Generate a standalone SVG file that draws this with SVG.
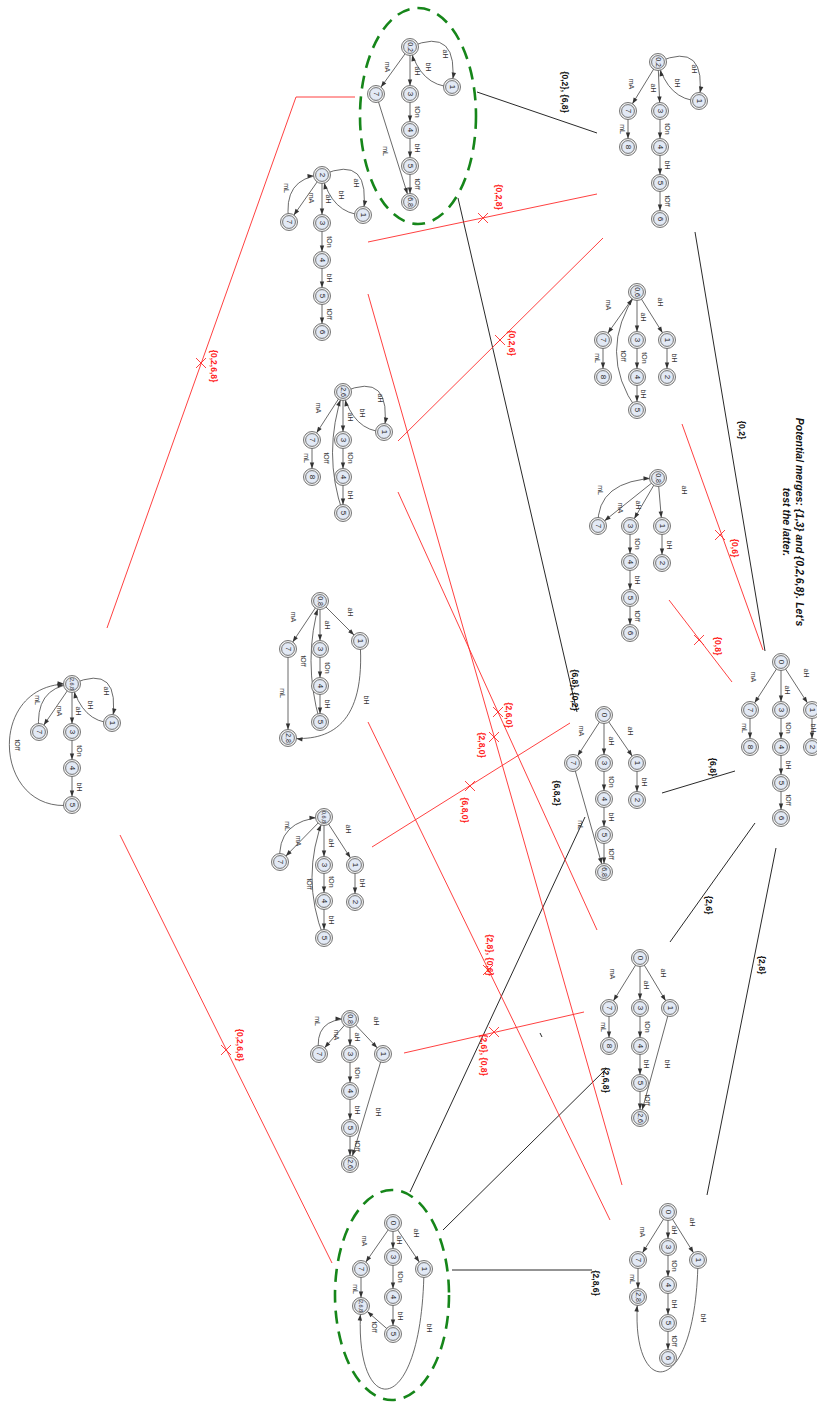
<svg xmlns="http://www.w3.org/2000/svg" width="817" height="1407" viewBox="0 0 817 1407">
<defs>
<marker id="a" markerUnits="userSpaceOnUse" viewBox="0 -5 20 10" markerWidth="20" markerHeight="10" refX="18.5" refY="0" orient="auto"><path d="M4,-2.2 L10,0 L4,2.2 z" fill="#333"/></marker>
<g id="st"><circle r="8.5" class="o"/><circle r="6.4" class="i"/></g>
<path id="xm" d="M-5,-5 L5,5 M-5,5 L5,-5"/>
</defs>
<style>
.o{fill:#efefef;stroke:#666;stroke-width:0.9}
.i{fill:#e2e9f5;stroke:#666;stroke-width:0.9}
.nl{font-family:"Liberation Sans",Arial,sans-serif;font-size:8px;fill:#222;text-anchor:middle;dominant-baseline:central}
.s{font-size:7px}
.xs{font-size:5.5px}
.el{font-family:"Liberation Sans",Arial,sans-serif;font-size:7px;fill:#333;text-anchor:middle;dominant-baseline:central}
.e{fill:none;stroke:#444;stroke-width:0.8;marker-end:url(#a)}
.bk{stroke:#111;stroke-width:0.9;fill:none}
.rd{stroke:#ff2b2b;stroke-width:0.9;fill:none}
.bl{font-family:"Liberation Sans",Arial,sans-serif;font-size:8.5px;font-weight:bold;fill:#111;text-anchor:middle;dominant-baseline:central}
.rl{font-family:"Liberation Sans",Arial,sans-serif;font-size:8.5px;font-weight:bold;fill:#f22;text-anchor:middle;dominant-baseline:central}
.ell{fill:none;stroke:#16861a;stroke-width:2.6;stroke-dasharray:13 8}
.tt{font-family:"Liberation Sans",Arial,sans-serif;font-size:10.5px;font-weight:bold;font-style:italic;fill:#111;text-anchor:middle;dominant-baseline:central}
</style>
<rect width="817" height="1407" fill="#fff"/>

<g id="title">
<text class="tt" transform="translate(800,522) rotate(90)">Potential merges: {1,3} and {0,2,6,8}. Let's</text>
<text class="tt" transform="translate(787,522) rotate(90)">test the latter.</text>
</g>

<g id="highlights">
<ellipse class="ell" cx="418" cy="116" rx="58" ry="108"/>
<ellipse class="ell" cx="392" cy="1295" rx="57" ry="105"/>
</g>

<g id="connectors">
<path class="bk" d="M477,92 L597,133"/>
<path class="bk" d="M695,232 L765,651"/>
<path class="bk" d="M662,793 L735,771"/>
<path class="bk" d="M670,942 L755,823"/>
<path class="bk" d="M707,1195 L776,848"/>
<path class="bk" d="M458,198 L577,712"/>
<path class="bk" d="M585,817 L410,1192"/>
<path class="bk" d="M607,1068 L443,1230"/>
<path class="bk" d="M452,1270 L592,1270"/>
<path class="bk" d="M540,1033 L542,1037"/>
<text class="bl" transform="translate(565,92) rotate(90)">{0,2}, {6,8}</text>
<text class="bl" transform="translate(742,430) rotate(90)">{0,2}</text>
<text class="bl" transform="translate(575,690) rotate(90)">{6,8}, {0,2}</text>
<text class="bl" transform="translate(713,767) rotate(90)">{6,8}</text>
<text class="bl" transform="translate(557,793) rotate(90)">{6,8,2}</text>
<text class="bl" transform="translate(709,905) rotate(90)">{2,6}</text>
<text class="bl" transform="translate(762,965) rotate(90)">{2,8}</text>
<text class="bl" transform="translate(606,1080) rotate(90)">{2,6,8}</text>
<text class="bl" transform="translate(596,1283) rotate(90)">{2,8,6}</text>

<path class="rd" d="M355,97 L296,97 L107,628"/>
<path class="rd" d="M368,242 L597,194"/>
<path class="rd" d="M398,441 L603,238"/>
<path class="rd" d="M682,424 L763,650"/>
<path class="rd" d="M669,600 L732,682"/>
<path class="rd" d="M368,294 L622,1185"/>
<path class="rd" d="M398,492 L597,930"/>
<path class="rd" d="M368,722 L610,1220"/>
<path class="rd" d="M372,847 L570,723"/>
<path class="rd" d="M404,1053 L584,1012"/>
<path class="rd" d="M120,835 L332,1263"/>
<use href="#xm" class="rd" x="201" y="363"/>
<use href="#xm" class="rd" x="483" y="218"/>
<use href="#xm" class="rd" x="500" y="340"/>
<use href="#xm" class="rd" x="720" y="535"/>
<use href="#xm" class="rd" x="699" y="640"/>
<use href="#xm" class="rd" x="494" y="737"/>
<use href="#xm" class="rd" x="498" y="712"/>
<use href="#xm" class="rd" x="488" y="970"/>
<use href="#xm" class="rd" x="470" y="786"/>
<use href="#xm" class="rd" x="494" y="1032"/>
<use href="#xm" class="rd" x="226" y="1050"/>
<text class="rl" transform="translate(214,366) rotate(90)">{0,2,6,8}</text>
<text class="rl" transform="translate(499,197) rotate(90)">{0,2,8}</text>
<text class="rl" transform="translate(512,343) rotate(90)">{0,2,6}</text>
<text class="rl" transform="translate(735,548) rotate(90)">{0,6}</text>
<text class="rl" transform="translate(718,646) rotate(90)">{0,8}</text>
<text class="rl" transform="translate(509,715) rotate(90)">{2,6,0}</text>
<text class="rl" transform="translate(482,745) rotate(90)">{2,8,0}</text>
<text class="rl" transform="translate(465,810) rotate(90)">{6,8,0}</text>
<text class="rl" transform="translate(490,955) rotate(90)">{2,8}, {0,6}</text>
<text class="rl" transform="translate(484,1055) rotate(90)">{2,6}, {0,8}</text>
<text class="rl" transform="translate(240,1045) rotate(90)">{0,2,6,8}</text>
</g>

<g id="edges">
<!-- T1 -->
<path class="e" d="M658,62 L628,111"/><path class="e" d="M658,62 L660,111"/><path class="e" d="M658,62 Q708,40 699,101"/><path class="e" d="M699,101 Q668,100 658,62"/><path class="e" d="M660,111 L660,147"/><path class="e" d="M660,147 L660,183"/><path class="e" d="M660,183 L660,219"/><path class="e" d="M628,111 L628,147"/>
<text class="el" transform="translate(631,84) rotate(90)">mA</text><text class="el" transform="translate(653,88) rotate(90)">aH</text><text class="el" transform="translate(694,69) rotate(90)">aH</text><text class="el" transform="translate(677,83) rotate(90)">bH</text><text class="el" transform="translate(667,129) rotate(90)">tOn</text><text class="el" transform="translate(667,165) rotate(90)">bH</text><text class="el" transform="translate(667,201) rotate(90)">tOff</text><text class="el" transform="translate(622,129) rotate(90)">mL</text>
<!-- T2 -->
<path class="e" d="M637,292 L603,340"/><path class="e" d="M637,292 L637,340"/><path class="e" d="M637,292 L667,340"/><path class="e" d="M603,340 L603,377"/><path class="e" d="M637,340 L637,377"/><path class="e" d="M637,377 L637,410"/><path class="e" d="M667,340 L667,377"/><path class="e" d="M637,410 Q596,352 637,292"/>
<text class="el" transform="translate(608,305) rotate(90)">mA</text><text class="el" transform="translate(643,317) rotate(90)">aH</text><text class="el" transform="translate(660,302) rotate(90)">aH</text><text class="el" transform="translate(597,358) rotate(90)">mL</text><text class="el" transform="translate(644,358) rotate(90)">tOn</text><text class="el" transform="translate(643,394) rotate(90)">bH</text><text class="el" transform="translate(674,358) rotate(90)">bH</text><text class="el" transform="translate(623,356) rotate(90)">tOff</text>
<!-- T3 -->
<path class="e" d="M781,662 L750,710"/><path class="e" d="M781,662 L781,710"/><path class="e" d="M781,662 L812,710"/><path class="e" d="M750,710 L750,747"/><path class="e" d="M781,710 L781,747"/><path class="e" d="M781,747 L781,783"/><path class="e" d="M781,783 L781,818"/><path class="e" d="M812,710 L812,747"/>
<text class="el" transform="translate(753,677) rotate(90)">mA</text><text class="el" transform="translate(787,690) rotate(90)">aH</text><text class="el" transform="translate(806,673) rotate(90)">aH</text><text class="el" transform="translate(744,728) rotate(90)">mL</text><text class="el" transform="translate(788,728) rotate(90)">tOn</text><text class="el" transform="translate(788,765) rotate(90)">bH</text><text class="el" transform="translate(788,800) rotate(90)">tOff</text><text class="el" transform="translate(813.5,728) rotate(90)" font-size="5.5">bH</text>
<!-- T4 -->
<path class="e" d="M410,47 L376,94"/><path class="e" d="M410,47 L410,94"/><path class="e" d="M410,47 Q460,25 452,87"/><path class="e" d="M452,87 Q420,86 410,47"/><path class="e" d="M410,94 L410,130"/><path class="e" d="M410,130 L410,166"/><path class="e" d="M410,166 L410,202"/><path class="e" d="M376,94 L410,202"/>
<text class="el" transform="translate(387,67) rotate(90)">mA</text><text class="el" transform="translate(417,71) rotate(90)">aH</text><text class="el" transform="translate(445,54) rotate(90)">aH</text><text class="el" transform="translate(428,67) rotate(90)">bH</text><text class="el" transform="translate(417,112) rotate(90)">tOn</text><text class="el" transform="translate(417,148) rotate(90)">bH</text><text class="el" transform="translate(417,184) rotate(90)">tOff</text><text class="el" transform="translate(385,151) rotate(90)">mL</text>
<!-- T5 -->
<path class="e" d="M322,175 L289,222"/><path class="e" d="M289,222 Q282,178 322,175"/><path class="e" d="M322,175 L322,223"/><path class="e" d="M322,175 Q372,153 363,215"/><path class="e" d="M363,215 Q332,214 322,175"/><path class="e" d="M322,223 L322,260"/><path class="e" d="M322,260 L322,296"/><path class="e" d="M322,296 L322,332"/>
<text class="el" transform="translate(311,198) rotate(90)">mA</text><text class="el" transform="translate(286,188) rotate(90)">mL</text><text class="el" transform="translate(328,199) rotate(90)">aH</text><text class="el" transform="translate(356,183) rotate(90)">aH</text><text class="el" transform="translate(341,195) rotate(90)">bH</text><text class="el" transform="translate(329,242) rotate(90)">tOn</text><text class="el" transform="translate(329,278) rotate(90)">bH</text><text class="el" transform="translate(329,314) rotate(90)">tOff</text>
<!-- T6 -->
<path class="e" d="M343,392 L312,440"/><path class="e" d="M343,392 L343,440"/><path class="e" d="M343,392 Q393,370 384,432"/><path class="e" d="M384,432 Q353,431 343,392"/><path class="e" d="M312,440 L312,477"/><path class="e" d="M343,440 L343,477"/><path class="e" d="M343,477 L343,513"/><path class="e" d="M343,513 Q322,453 343,392"/>
<text class="el" transform="translate(318,408) rotate(90)">mA</text><text class="el" transform="translate(350,417) rotate(90)">aH</text><text class="el" transform="translate(380,398) rotate(90)">aH</text><text class="el" transform="translate(362,413) rotate(90)">bH</text><text class="el" transform="translate(306,458) rotate(90)">mL</text><text class="el" transform="translate(350,458) rotate(90)">tOn</text><text class="el" transform="translate(350,495) rotate(90)">bH</text><text class="el" transform="translate(326,458) rotate(90)">tOff</text>
<!-- T7 -->
<path class="e" d="M658,478 L598,526"/><path class="e" d="M598,526 Q596,480 658,478"/><path class="e" d="M658,478 L630,526"/><path class="e" d="M658,478 L662,526"/><path class="e" d="M662,526 L662,563"/><path class="e" d="M630,526 L630,562"/><path class="e" d="M630,562 L630,598"/><path class="e" d="M630,598 L630,633"/>
<text class="el" transform="translate(620,508) rotate(90)">mA</text><text class="el" transform="translate(600,490) rotate(90)">mL</text><text class="el" transform="translate(638,505) rotate(90)">aH</text><text class="el" transform="translate(684,490) rotate(90)">aH</text><text class="el" transform="translate(669,545) rotate(90)">bH</text><text class="el" transform="translate(637,544) rotate(90)">tOn</text><text class="el" transform="translate(637,580) rotate(90)">bH</text><text class="el" transform="translate(637,616) rotate(90)">tOff</text>
<!-- T8 -->
<path class="e" d="M604,715 L573,763"/><path class="e" d="M604,715 L604,763"/><path class="e" d="M604,715 L637,763"/><path class="e" d="M637,763 L637,800"/><path class="e" d="M604,763 L604,799"/><path class="e" d="M604,799 L604,835"/><path class="e" d="M604,835 L604,872"/><path class="e" d="M573,763 L604,872"/>
<text class="el" transform="translate(581,731) rotate(90)">mA</text><text class="el" transform="translate(611,741) rotate(90)">aH</text><text class="el" transform="translate(630,731) rotate(90)">aH</text><text class="el" transform="translate(644,782) rotate(90)">bH</text><text class="el" transform="translate(611,782) rotate(90)">tOn</text><text class="el" transform="translate(611,817) rotate(90)">bH</text><text class="el" transform="translate(611,854) rotate(90)">tOff</text><text class="el" transform="translate(580,825) rotate(90)">mL</text>
<!-- T9 -->
<path class="e" d="M640,958 L609,1008"/><path class="e" d="M640,958 L640,1008"/><path class="e" d="M640,958 L670,1008"/><path class="e" d="M609,1008 L609,1046"/><path class="e" d="M640,1008 L640,1046"/><path class="e" d="M640,1046 L640,1083"/><path class="e" d="M640,1083 L640,1118"/><path class="e" d="M670,1008 L640,1118"/>
<text class="el" transform="translate(612,974) rotate(90)">mA</text><text class="el" transform="translate(646,985) rotate(90)">aH</text><text class="el" transform="translate(663,973) rotate(90)">aH</text><text class="el" transform="translate(603,1027) rotate(90)">mL</text><text class="el" transform="translate(647,1027) rotate(90)">tOn</text><text class="el" transform="translate(646,1064) rotate(90)">bH</text><text class="el" transform="translate(647,1100) rotate(90)">tOff</text><text class="el" transform="translate(667,1064) rotate(90)">bH</text>
<!-- T10 -->
<path class="e" d="M668,1212 L638,1260"/><path class="e" d="M668,1212 L668,1247"/><path class="e" d="M668,1212 L698,1260"/><path class="e" d="M638,1260 L638,1297"/><path class="e" d="M668,1247 L668,1285"/><path class="e" d="M668,1285 L668,1323"/><path class="e" d="M668,1323 L668,1358"/><path class="e" d="M698,1260 C696,1405 628,1400 638,1297"/>
<text class="el" transform="translate(642,1232) rotate(90)">mA</text><text class="el" transform="translate(674,1230) rotate(90)">aH</text><text class="el" transform="translate(692,1222) rotate(90)">aH</text><text class="el" transform="translate(632,1279) rotate(90)">mL</text><text class="el" transform="translate(674,1266) rotate(90)">tOn</text><text class="el" transform="translate(674,1304) rotate(90)">bH</text><text class="el" transform="translate(674,1341) rotate(90)">tOff</text><text class="el" transform="translate(703,1318) rotate(90)">bH</text>
<!-- T11 -->
<path class="e" d="M393,1223 L361,1269"/><path class="e" d="M393,1223 L393,1257"/><path class="e" d="M393,1223 L424,1269"/><path class="e" d="M361,1269 L361,1306"/><path class="e" d="M393,1257 L393,1297"/><path class="e" d="M393,1297 L393,1334"/><path class="e" d="M393,1334 L361,1306"/><path class="e" d="M424,1269 C422,1425 352,1420 361,1306"/>
<text class="el" transform="translate(364,1241) rotate(90)">mA</text><text class="el" transform="translate(399,1240) rotate(90)">aH</text><text class="el" transform="translate(416,1233) rotate(90)">aH</text><text class="el" transform="translate(355,1289) rotate(90)">mL</text><text class="el" transform="translate(400,1277) rotate(90)">tOn</text><text class="el" transform="translate(400,1316) rotate(90)">bH</text><text class="el" transform="translate(374,1327) rotate(90)">tOff</text><text class="el" transform="translate(429,1328) rotate(90)">bH</text>
<!-- T12 -->
<path class="e" d="M72,684 L39,732"/><path class="e" d="M39,732 Q34,688 72,684"/><path class="e" d="M72,684 L72,732"/><path class="e" d="M72,684 Q122,662 112,723"/><path class="e" d="M112,723 Q82,722 72,684"/><path class="e" d="M72,732 L72,768"/><path class="e" d="M72,768 L72,805"/><path class="e" d="M72,805 C-8,815 -15,680 72,684"/>
<text class="el" transform="translate(59,711) rotate(90)">mA</text><text class="el" transform="translate(37,700) rotate(90)">mL</text><text class="el" transform="translate(78,711) rotate(90)">aH</text><text class="el" transform="translate(106,691) rotate(90)">aH</text><text class="el" transform="translate(90,705) rotate(90)">bH</text><text class="el" transform="translate(79,751) rotate(90)">tOn</text><text class="el" transform="translate(79,787) rotate(90)">bH</text><text class="el" transform="translate(17,745) rotate(90)">tOff</text>
<!-- T13 -->
<path class="e" d="M320,601 L288,649"/><path class="e" d="M320,601 L320,649"/><path class="e" d="M320,601 L360,641"/><path class="e" d="M288,649 L288,738"/><path class="e" d="M320,649 L320,686"/><path class="e" d="M320,686 L320,722"/><path class="e" d="M320,722 Q302,660 320,601"/><path class="e" d="M360,641 C366,725 330,742 288,738"/>
<text class="el" transform="translate(293,617) rotate(90)">mA</text><text class="el" transform="translate(327,625) rotate(90)">aH</text><text class="el" transform="translate(350,612) rotate(90)">aH</text><text class="el" transform="translate(282,693) rotate(90)">mL</text><text class="el" transform="translate(327,668) rotate(90)">tOn</text><text class="el" transform="translate(327,704) rotate(90)">bH</text><text class="el" transform="translate(303,661) rotate(90)">tOff</text><text class="el" transform="translate(366,700) rotate(90)">bH</text>
<!-- T14 -->
<path class="e" d="M324,817 L280,862"/><path class="e" d="M280,862 Q276,820 324,817"/><path class="e" d="M324,817 L324,865"/><path class="e" d="M324,817 L355,865"/><path class="e" d="M355,865 L355,902"/><path class="e" d="M324,865 L324,901"/><path class="e" d="M324,901 L324,938"/><path class="e" d="M324,938 Q300,877 324,817"/>
<text class="el" transform="translate(298,841) rotate(90)">mA</text><text class="el" transform="translate(287,826) rotate(90)">mL</text><text class="el" transform="translate(331,843) rotate(90)">aH</text><text class="el" transform="translate(348,829) rotate(90)">aH</text><text class="el" transform="translate(362,883) rotate(90)">bH</text><text class="el" transform="translate(331,882) rotate(90)">tOn</text><text class="el" transform="translate(331,920) rotate(90)">bH</text><text class="el" transform="translate(309,884) rotate(90)">tOff</text>
<!-- T15 -->
<path class="e" d="M350,1019 L319,1054"/><path class="e" d="M319,1054 Q313,1018 350,1019"/><path class="e" d="M350,1019 L350,1054"/><path class="e" d="M350,1019 L383,1054"/><path class="e" d="M350,1054 L350,1091"/><path class="e" d="M350,1091 L350,1128"/><path class="e" d="M350,1128 L350,1164"/><path class="e" d="M383,1054 L350,1164"/>
<text class="el" transform="translate(336,1035) rotate(90)">mA</text><text class="el" transform="translate(317,1021) rotate(90)">mL</text><text class="el" transform="translate(357,1037) rotate(90)">aH</text><text class="el" transform="translate(376,1021) rotate(90)">aH</text><text class="el" transform="translate(357,1073) rotate(90)">tOn</text><text class="el" transform="translate(357,1110) rotate(90)">bH</text><text class="el" transform="translate(357,1146) rotate(90)">tOff</text><text class="el" transform="translate(378,1112) rotate(90)">bH</text>
</g>

<g id="tree1">
<g id="t1-02" transform="translate(658,62)"><use href="#st"/><text class="nl s" transform="rotate(90)">0,2</text></g>
<g id="t1-1" transform="translate(699,101)"><use href="#st"/><text class="nl" transform="rotate(90)">1</text></g>
<g id="t1-3" transform="translate(660,111)"><use href="#st"/><text class="nl" transform="rotate(90)">3</text></g>
<g id="t1-4" transform="translate(660,147)"><use href="#st"/><text class="nl" transform="rotate(90)">4</text></g>
<g id="t1-5" transform="translate(660,183)"><use href="#st"/><text class="nl" transform="rotate(90)">5</text></g>
<g id="t1-6" transform="translate(660,219)"><use href="#st"/><text class="nl" transform="rotate(90)">6</text></g>
<g id="t1-7" transform="translate(628,111)"><use href="#st"/><text class="nl" transform="rotate(90)">7</text></g>
<g id="t1-8" transform="translate(628,147)"><use href="#st"/><text class="nl" transform="rotate(90)">8</text></g>
</g>
<g id="tree2">
<g id="t2-06" transform="translate(637,292)"><use href="#st"/><text class="nl s" transform="rotate(90)">0,6</text></g>
<g id="t2-7" transform="translate(603,340)"><use href="#st"/><text class="nl" transform="rotate(90)">7</text></g>
<g id="t2-8" transform="translate(603,377)"><use href="#st"/><text class="nl" transform="rotate(90)">8</text></g>
<g id="t2-3" transform="translate(637,340)"><use href="#st"/><text class="nl" transform="rotate(90)">3</text></g>
<g id="t2-4" transform="translate(637,377)"><use href="#st"/><text class="nl" transform="rotate(90)">4</text></g>
<g id="t2-5" transform="translate(637,410)"><use href="#st"/><text class="nl" transform="rotate(90)">5</text></g>
<g id="t2-1" transform="translate(667,340)"><use href="#st"/><text class="nl" transform="rotate(90)">1</text></g>
<g id="t2-2" transform="translate(667,377)"><use href="#st"/><text class="nl" transform="rotate(90)">2</text></g>
</g>
<g id="tree3">
<g id="t3-0" transform="translate(781,662)"><use href="#st"/><text class="nl" transform="rotate(90)">0</text></g>
<g id="t3-7" transform="translate(750,710)"><use href="#st"/><text class="nl" transform="rotate(90)">7</text></g>
<g id="t3-8" transform="translate(750,747)"><use href="#st"/><text class="nl" transform="rotate(90)">8</text></g>
<g id="t3-3" transform="translate(781,710)"><use href="#st"/><text class="nl" transform="rotate(90)">3</text></g>
<g id="t3-4" transform="translate(781,747)"><use href="#st"/><text class="nl" transform="rotate(90)">4</text></g>
<g id="t3-5" transform="translate(781,783)"><use href="#st"/><text class="nl" transform="rotate(90)">5</text></g>
<g id="t3-6" transform="translate(781,818)"><use href="#st"/><text class="nl" transform="rotate(90)">6</text></g>
<g id="t3-1" transform="translate(812,710)"><use href="#st"/><text class="nl" transform="rotate(90)">1</text></g>
<g id="t3-2" transform="translate(812,747)"><use href="#st"/><text class="nl" transform="rotate(90)">2</text></g>
</g>
<g id="tree4">
<g id="t4-02" transform="translate(410,47)"><use href="#st"/><text class="nl s" transform="rotate(90)">0,2</text></g>
<g id="t4-1" transform="translate(452,87)"><use href="#st"/><text class="nl" transform="rotate(90)">1</text></g>
<g id="t4-7" transform="translate(376,94)"><use href="#st"/><text class="nl" transform="rotate(90)">7</text></g>
<g id="t4-3" transform="translate(410,94)"><use href="#st"/><text class="nl" transform="rotate(90)">3</text></g>
<g id="t4-4" transform="translate(410,130)"><use href="#st"/><text class="nl" transform="rotate(90)">4</text></g>
<g id="t4-5" transform="translate(410,166)"><use href="#st"/><text class="nl" transform="rotate(90)">5</text></g>
<g id="t4-68" transform="translate(410,202)"><use href="#st"/><text class="nl s" transform="rotate(90)">6,8</text></g>
</g>
<g id="tree5">
<g id="t5-2" transform="translate(322,175)"><use href="#st"/><text class="nl" transform="rotate(90)">2</text></g>
<g id="t5-1" transform="translate(363,215)"><use href="#st"/><text class="nl" transform="rotate(90)">1</text></g>
<g id="t5-7" transform="translate(289,222)"><use href="#st"/><text class="nl" transform="rotate(90)">7</text></g>
<g id="t5-3" transform="translate(322,223)"><use href="#st"/><text class="nl" transform="rotate(90)">3</text></g>
<g id="t5-4" transform="translate(322,260)"><use href="#st"/><text class="nl" transform="rotate(90)">4</text></g>
<g id="t5-5" transform="translate(322,296)"><use href="#st"/><text class="nl" transform="rotate(90)">5</text></g>
<g id="t5-6" transform="translate(322,332)"><use href="#st"/><text class="nl" transform="rotate(90)">6</text></g>
</g>
<g id="tree6">
<g id="t6-26" transform="translate(343,392)"><use href="#st"/><text class="nl s" transform="rotate(90)">2,6</text></g>
<g id="t6-1" transform="translate(384,432)"><use href="#st"/><text class="nl" transform="rotate(90)">1</text></g>
<g id="t6-7" transform="translate(312,440)"><use href="#st"/><text class="nl" transform="rotate(90)">7</text></g>
<g id="t6-8" transform="translate(312,477)"><use href="#st"/><text class="nl" transform="rotate(90)">8</text></g>
<g id="t6-3" transform="translate(343,440)"><use href="#st"/><text class="nl" transform="rotate(90)">3</text></g>
<g id="t6-4" transform="translate(343,477)"><use href="#st"/><text class="nl" transform="rotate(90)">4</text></g>
<g id="t6-5" transform="translate(343,513)"><use href="#st"/><text class="nl" transform="rotate(90)">5</text></g>
</g>
<g id="tree7">
<g id="t7-08" transform="translate(658,478)"><use href="#st"/><text class="nl s" transform="rotate(90)">0,8</text></g>
<g id="t7-7" transform="translate(598,526)"><use href="#st"/><text class="nl" transform="rotate(90)">7</text></g>
<g id="t7-3" transform="translate(630,526)"><use href="#st"/><text class="nl" transform="rotate(90)">3</text></g>
<g id="t7-4" transform="translate(630,562)"><use href="#st"/><text class="nl" transform="rotate(90)">4</text></g>
<g id="t7-5" transform="translate(630,598)"><use href="#st"/><text class="nl" transform="rotate(90)">5</text></g>
<g id="t7-6" transform="translate(630,633)"><use href="#st"/><text class="nl" transform="rotate(90)">6</text></g>
<g id="t7-1" transform="translate(662,526)"><use href="#st"/><text class="nl" transform="rotate(90)">1</text></g>
<g id="t7-2" transform="translate(662,563)"><use href="#st"/><text class="nl" transform="rotate(90)">2</text></g>
</g>
<g id="tree8">
<g id="t8-0" transform="translate(604,715)"><use href="#st"/><text class="nl" transform="rotate(90)">0</text></g>
<g id="t8-7" transform="translate(573,763)"><use href="#st"/><text class="nl" transform="rotate(90)">7</text></g>
<g id="t8-3" transform="translate(604,763)"><use href="#st"/><text class="nl" transform="rotate(90)">3</text></g>
<g id="t8-4" transform="translate(604,799)"><use href="#st"/><text class="nl" transform="rotate(90)">4</text></g>
<g id="t8-5" transform="translate(604,835)"><use href="#st"/><text class="nl" transform="rotate(90)">5</text></g>
<g id="t8-68" transform="translate(604,872)"><use href="#st"/><text class="nl s" transform="rotate(90)">6,8</text></g>
<g id="t8-1" transform="translate(637,763)"><use href="#st"/><text class="nl" transform="rotate(90)">1</text></g>
<g id="t8-2" transform="translate(637,800)"><use href="#st"/><text class="nl" transform="rotate(90)">2</text></g>
</g>
<g id="tree9">
<g id="t9-0" transform="translate(640,958)"><use href="#st"/><text class="nl" transform="rotate(90)">0</text></g>
<g id="t9-7" transform="translate(609,1008)"><use href="#st"/><text class="nl" transform="rotate(90)">7</text></g>
<g id="t9-8" transform="translate(609,1046)"><use href="#st"/><text class="nl" transform="rotate(90)">8</text></g>
<g id="t9-3" transform="translate(640,1008)"><use href="#st"/><text class="nl" transform="rotate(90)">3</text></g>
<g id="t9-4" transform="translate(640,1046)"><use href="#st"/><text class="nl" transform="rotate(90)">4</text></g>
<g id="t9-5" transform="translate(640,1083)"><use href="#st"/><text class="nl" transform="rotate(90)">5</text></g>
<g id="t9-26" transform="translate(640,1118)"><use href="#st"/><text class="nl s" transform="rotate(90)">2,6</text></g>
<g id="t9-1" transform="translate(670,1008)"><use href="#st"/><text class="nl" transform="rotate(90)">1</text></g>
</g>
<g id="tree10">
<g id="t10-0" transform="translate(668,1212)"><use href="#st"/><text class="nl" transform="rotate(90)">0</text></g>
<g id="t10-7" transform="translate(638,1260)"><use href="#st"/><text class="nl" transform="rotate(90)">7</text></g>
<g id="t10-28" transform="translate(638,1297)"><use href="#st"/><text class="nl s" transform="rotate(90)">2,8</text></g>
<g id="t10-3" transform="translate(668,1247)"><use href="#st"/><text class="nl" transform="rotate(90)">3</text></g>
<g id="t10-4" transform="translate(668,1285)"><use href="#st"/><text class="nl" transform="rotate(90)">4</text></g>
<g id="t10-5" transform="translate(668,1323)"><use href="#st"/><text class="nl" transform="rotate(90)">5</text></g>
<g id="t10-6" transform="translate(668,1358)"><use href="#st"/><text class="nl" transform="rotate(90)">6</text></g>
<g id="t10-1" transform="translate(698,1260)"><use href="#st"/><text class="nl" transform="rotate(90)">1</text></g>
</g>
<g id="tree11">
<g id="t11-0" transform="translate(393,1223)"><use href="#st"/><text class="nl" transform="rotate(90)">0</text></g>
<g id="t11-7" transform="translate(361,1269)"><use href="#st"/><text class="nl" transform="rotate(90)">7</text></g>
<g id="t11-268" transform="translate(361,1306)"><use href="#st"/><text class="nl xs" transform="rotate(90)">2,6,8</text></g>
<g id="t11-3" transform="translate(393,1257)"><use href="#st"/><text class="nl" transform="rotate(90)">3</text></g>
<g id="t11-4" transform="translate(393,1297)"><use href="#st"/><text class="nl" transform="rotate(90)">4</text></g>
<g id="t11-5" transform="translate(393,1334)"><use href="#st"/><text class="nl" transform="rotate(90)">5</text></g>
<g id="t11-1" transform="translate(424,1269)"><use href="#st"/><text class="nl" transform="rotate(90)">1</text></g>
</g>
<g id="tree12">
<g id="t12-268" transform="translate(72,684)"><use href="#st"/><text class="nl xs" transform="rotate(90)">2,6,8</text></g>
<g id="t12-1" transform="translate(112,723)"><use href="#st"/><text class="nl" transform="rotate(90)">1</text></g>
<g id="t12-7" transform="translate(39,732)"><use href="#st"/><text class="nl" transform="rotate(90)">7</text></g>
<g id="t12-3" transform="translate(72,732)"><use href="#st"/><text class="nl" transform="rotate(90)">3</text></g>
<g id="t12-4" transform="translate(72,768)"><use href="#st"/><text class="nl" transform="rotate(90)">4</text></g>
<g id="t12-5" transform="translate(72,805)"><use href="#st"/><text class="nl" transform="rotate(90)">5</text></g>
</g>
<g id="tree13">
<g id="t13-08" transform="translate(320,601)"><use href="#st"/><text class="nl s" transform="rotate(90)">0,8</text></g>
<g id="t13-1" transform="translate(360,641)"><use href="#st"/><text class="nl" transform="rotate(90)">1</text></g>
<g id="t13-7" transform="translate(288,649)"><use href="#st"/><text class="nl" transform="rotate(90)">7</text></g>
<g id="t13-3" transform="translate(320,649)"><use href="#st"/><text class="nl" transform="rotate(90)">3</text></g>
<g id="t13-4" transform="translate(320,686)"><use href="#st"/><text class="nl" transform="rotate(90)">4</text></g>
<g id="t13-5" transform="translate(320,722)"><use href="#st"/><text class="nl" transform="rotate(90)">5</text></g>
<g id="t13-28" transform="translate(288,738)"><use href="#st"/><text class="nl s" transform="rotate(90)">2,8</text></g>
</g>
<g id="tree14">
<g id="t14-068" transform="translate(324,817)"><use href="#st"/><text class="nl xs" transform="rotate(90)">0,6,8</text></g>
<g id="t14-7" transform="translate(280,862)"><use href="#st"/><text class="nl" transform="rotate(90)">7</text></g>
<g id="t14-3" transform="translate(324,865)"><use href="#st"/><text class="nl" transform="rotate(90)">3</text></g>
<g id="t14-4" transform="translate(324,901)"><use href="#st"/><text class="nl" transform="rotate(90)">4</text></g>
<g id="t14-5" transform="translate(324,938)"><use href="#st"/><text class="nl" transform="rotate(90)">5</text></g>
<g id="t14-1" transform="translate(355,865)"><use href="#st"/><text class="nl" transform="rotate(90)">1</text></g>
<g id="t14-2" transform="translate(355,902)"><use href="#st"/><text class="nl" transform="rotate(90)">2</text></g>
</g>
<g id="tree15">
<g id="t15-08" transform="translate(350,1019)"><use href="#st"/><text class="nl s" transform="rotate(90)">0,8</text></g>
<g id="t15-1" transform="translate(383,1054)"><use href="#st"/><text class="nl" transform="rotate(90)">1</text></g>
<g id="t15-7" transform="translate(319,1054)"><use href="#st"/><text class="nl" transform="rotate(90)">7</text></g>
<g id="t15-3" transform="translate(350,1054)"><use href="#st"/><text class="nl" transform="rotate(90)">3</text></g>
<g id="t15-4" transform="translate(350,1091)"><use href="#st"/><text class="nl" transform="rotate(90)">4</text></g>
<g id="t15-5" transform="translate(350,1128)"><use href="#st"/><text class="nl" transform="rotate(90)">5</text></g>
<g id="t15-26" transform="translate(350,1164)"><use href="#st"/><text class="nl s" transform="rotate(90)">2,6</text></g>
</g>
</svg>
